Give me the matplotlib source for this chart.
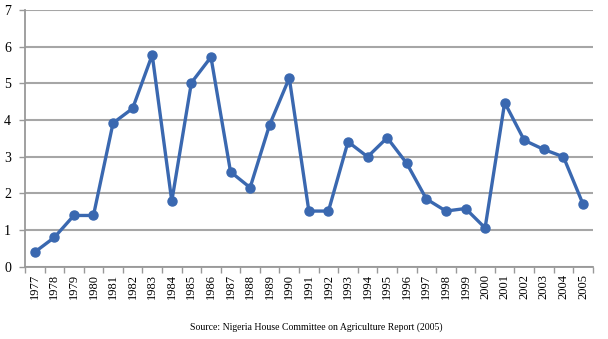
import numpy as np
import matplotlib.pyplot as plt

years = [str(y) for y in range(1977, 2006)]
values = [0.4, 0.8, 1.4, 1.4, 3.92, 4.32, 5.78, 1.79, 5.02, 5.72,
          2.59, 2.16, 3.88, 5.15, 1.52, 1.52, 3.41, 3.0, 3.52, 2.82,
          1.85, 1.52, 1.59, 1.06, 4.48, 3.45, 3.2, 3.0, 1.71]
y_ticks = [0, 1, 2, 3, 4, 5, 6, 7]
source = "Source: Nigeria House Committee on Agriculture Report (2005)"

plt.rcParams['font.family'] = ['Liberation Serif', 'DejaVu Serif']

fig = plt.figure(figsize=(6.08, 3.39), dpi=100)
ax = fig.add_axes([0.041, 0.213, 0.934, 0.757])

x = np.arange(len(years))
ax.plot(x, values, color='#3a68b0', linewidth=2.4, marker='o',
        markersize=6.5, zorder=3)

ax.set_xlim(-0.5, len(years) - 0.5)
ax.set_ylim(0, 7)
ax.set_yticks(y_ticks)
ax.set_yticklabels([str(v) for v in y_ticks], fontsize=10)
ax.yaxis.grid(True, color='#a6a6a6', linewidth=1.5)
ax.set_axisbelow(True)

# category labels in the middle, tick marks on the boundaries
ax.set_xticks(x)
ax.set_xticklabels(years, rotation=90, fontsize=9)
ax.tick_params(axis='x', length=0, pad=5)
ax.set_xticks(np.arange(len(years) + 1) - 0.5, minor=True)
ax.tick_params(axis='x', which='minor', length=4, color='#999999', width=1)
ax.tick_params(axis='y', length=4, color='#999999', width=1, pad=6)

for side in ['top', 'right']:
    ax.spines[side].set_visible(False)
for side in ['left', 'bottom']:
    ax.spines[side].set_color('#999999')
    ax.spines[side].set_linewidth(1.3)

fig.text(0.52, 0.035, source, ha='center', va='center', fontsize=7)

fig.savefig('out.png', dpi=100)
